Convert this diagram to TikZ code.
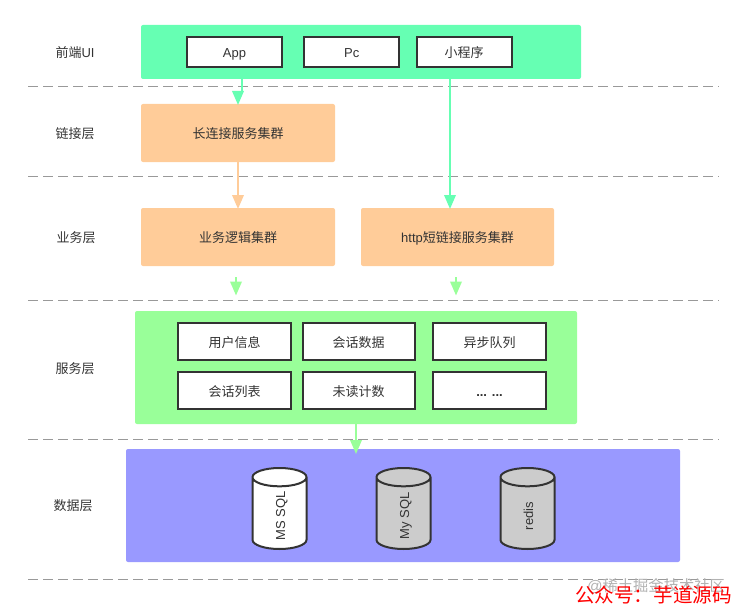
\documentclass[tikz,border=0pt]{standalone}
\usepackage{fontspec}
\setmainfont{Liberation Sans}
\newfontfamily\cjk{Noto Sans CJK SC}
\usepackage{xcolor}
\usetikzlibrary{positioning,arrows.meta,shapes.geometric}
\definecolor{txt}{HTML}{333333}
\definecolor{mint}{HTML}{66FFB3}
\definecolor{peach}{HTML}{FFCC99}
\definecolor{lime}{HTML}{99FF99}
\definecolor{violet}{HTML}{9999FF}
\definecolor{sep}{HTML}{999999}

\begin{document}
\begin{tikzpicture}[
x=1pt, y=-1pt,
every node/.style={outer sep=0pt, inner sep=0pt, text=txt, font=\fontsize{13}{15}\selectfont,
	text height=13pt, text depth=1.4pt},
layer/.style={},
panel/.style={rectangle, rounded corners=2pt, fill=#1},
item/.style={rectangle, draw=txt, line width=2pt, fill=white, minimum height=#1},
db/.style={
	cylinder, rotate=90, anchor=shape center, draw=txt, line width=2pt, fill=#1,
	minimum height=81pt, minimum width=54pt, aspect=1.95,
	text height=9.4pt, text depth=0pt
},
dbtext/.style={rotate=90, text height=9.4pt, text depth=0pt},
link/.style={-{Triangle[length=14pt,width=11.5pt]}, line width=2pt, draw=#1, shorten >=-1pt},
sepline/.style={draw=sep, line width=1.2pt, dash pattern=on 10pt off 5pt}
]
\useasboundingbox (0,0) rectangle (744,615);
% separators
\foreach \y in {86.5,176.5,300.5,439.5,579.5}
{
	\draw[sepline] (28,\y) -- (719,\y);
}
% layer names
\node[layer] (ui) at (75,52) {{\cjk 前端}UI};
\node[layer] (linklayer) at (75,133) {\cjk 链接层};
\node[layer] (bizlayer) at (76,237) {\cjk 业务层};
\node[layer] (svclayer) at (75,368) {\cjk 服务层};
\node[layer] (datalayer) at (73,505) {\cjk 数据层};
% front end
\node[panel=mint, minimum width=440pt, minimum height=54pt] (front) at (361,52) {};
\node[item=30.6pt, minimum width=95pt] (app) at (234.5,52) {App};
\node[item=30.6pt, minimum width=95pt, right=22.3pt of app] (pc) {Pc};
\node[item=30.6pt, minimum width=95pt, right=17.2pt of pc] (mini) {\cjk 小程序};
% clusters
\node[panel=peach, minimum width=194pt, minimum height=58pt] (conn) at (238,133) {\cjk 长连接服务集群};
\node[panel=peach, minimum width=194pt, minimum height=58pt] (logic) at (238,237) {\cjk 业务逻辑集群};
\node[panel=peach, minimum width=193pt, minimum height=58pt, right=26pt of logic] (http) {http{\cjk 短链接服务集群}};
% services
\node[panel=lime, minimum width=442pt, minimum height=113pt] (service) at (356,367.5) {};
\node[item=37pt, minimum width=112.4pt] (user) at (234.5,341.8) {\cjk 用户信息};
\node[item=37pt, minimum width=112.4pt, right=11.8pt of user] (session) {\cjk 会话数据};
\node[item=37pt, minimum width=112.4pt, right=18.4pt of session] (queue) {\cjk 异步队列};
\node[item=37pt, minimum width=112.4pt, below=12pt of user] (list) {\cjk 会话列表};
\node[item=37pt, minimum width=112.4pt, below=12pt of session] (unread) {\cjk 未读计数};
\node[item=37pt, minimum width=112.4pt, below=12pt of queue] (more) {\textbf{... ...}};
% storage
\node[panel=violet, minimum width=554pt, minimum height=113pt] (data) at (403,505.5) {};
\node[db=white] (mssql) at (279.5,508.5) {};
\node[db=black!20] (mysql) at (403.5,508.5) {};
\node[db=black!20] (redis) at (527.5,508.5) {};
\node[dbtext] (mssqltext) at (280.5,516) {MS SQL};
\node[dbtext] (mysqltext) at (404.5,516) {My SQL};
\node[dbtext] (redistext) at (528.5,516) {redis};
% arrows
\coordinate (appout) at (242,79);
\coordinate (appjog) at (242,92);
\coordinate (connin) at (238,92);
\coordinate (miniout) at (450,79);
\coordinate (httpin) at (450,208);
\coordinate (bizout) at (236,277);
\coordinate (bizin) at (236,294.5);
\coordinate (httpout) at (456,277);
\coordinate (httpsvc) at (456,294.5);
\coordinate (svcout) at (356,424);
\coordinate (datain) at (356,453);
\draw[link=mint] (appout) -- (appjog) -- (connin) -- (conn.north);
\draw[link=mint] (miniout) -- (httpin);
\draw[link=peach] (conn) -- (logic);
\draw[link=lime] (bizout) -- (bizin);
\draw[link=lime] (httpout) -- (httpsvc);
\draw[link=lime] (svcout) -- (datain);
% marks over the corner
\node[text=black!30, font=\fontsize{15.3}{17}\selectfont, text height=14pt, text depth=2.4pt] (mark) at (656,586) {@{\cjk 稀土掘金技术社区}};
\node[text=red, font=\fontsize{19.6}{22}\selectfont, text height=18pt, text depth=3.1pt] (account) at (653.5,595) {\cjk 公众号：芋道源码};
\end{tikzpicture}
\end{document}
